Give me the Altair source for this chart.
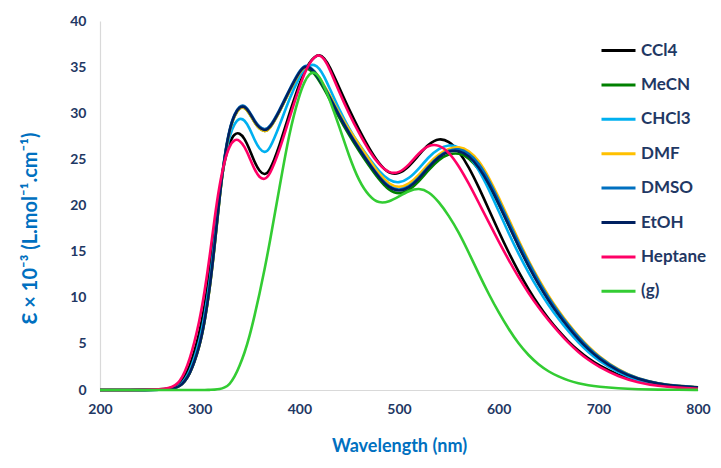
import altair as alt
import pandas as pd

wavelength = [200, 250, 270, 280, 290, 300, 305, 310, 315, 320, 325, 330, 335, 340, 345,
              350, 355, 360, 365, 370, 380, 390, 400, 405, 410, 415, 420, 425, 430, 440,
              450, 460, 470, 480, 490, 500, 510, 520, 530, 540, 550, 560, 570, 580, 590,
              600, 610, 620, 630, 640, 650, 660, 670, 680, 690, 700, 720, 740, 760, 780, 800]

ccl4 = [0, 0, 0.1, 0.5, 2.3, 6.2, 9.1, 12.7, 17.2, 21.6, 24.9, 26.9, 27.8, 27.9, 27.3,
        26.1, 24.7, 23.7, 23.3, 23.6, 26.4, 30.0, 33.2, 34.5, 35.5, 36.1, 36.4, 36.0, 35.2, 32.8,
        30.4, 28.2, 26.2, 24.5, 23.4, 23.4, 24.2, 25.5, 26.7, 27.3, 27.0, 25.9, 24.2, 22.0, 19.6,
        17.2, 14.9, 12.8, 10.9, 9.2, 7.7, 6.4, 5.25, 4.25, 3.4, 2.7, 1.6, 0.9, 0.5, 0.3, 0.18]

mecn = [0, 0, 0.05, 0.3, 1.5, 4.7, 7.4, 10.8, 15.5, 20.9, 25.3, 28.2, 29.8, 30.6, 30.7,
        30.0, 29.0, 28.3, 28.0, 28.2, 30.1, 32.4, 34.3, 34.9, 34.8, 34.3, 33.5, 32.6, 31.6, 29.5,
        27.6, 25.9, 24.3, 22.8, 21.6, 21.2, 21.6, 22.6, 23.9, 25.0, 25.6, 25.7, 25.2, 24.0, 22.3,
        20.2, 17.9, 15.6, 13.45, 11.5, 9.75, 8.2, 6.8, 5.55, 4.45, 3.5, 2.05, 1.15, 0.65, 0.4, 0.28]

chcl3 = [0, 0, 0.05, 0.35, 1.8, 5.3, 8.1, 11.6, 16.2, 21.3, 25.1, 27.6, 28.9, 29.5, 29.3,
         28.4, 27.1, 26.1, 25.7, 26.0, 28.6, 31.6, 33.9, 34.8, 35.2, 35.3, 34.9, 34.0, 32.8, 30.4,
         28.3, 26.6, 25.1, 23.7, 22.7, 22.4, 22.9, 24.0, 25.3, 26.2, 26.6, 26.4, 25.5, 23.9, 21.8,
         19.4, 17.0, 14.75, 12.7, 10.85, 9.2, 7.7, 6.35, 5.15, 4.1, 3.2, 1.85, 1.0, 0.55, 0.32, 0.22]

dmf = [0, 0, 0.05, 0.3, 1.5, 4.7, 7.4, 10.8, 15.5, 20.9, 25.3, 28.2, 29.8, 30.6, 30.7,
       30.0, 29.0, 28.3, 28.0, 28.2, 30.1, 32.4, 34.4, 35.0, 35.0, 34.6, 33.9, 33.0, 32.1, 30.0,
       28.2, 26.6, 25.0, 23.4, 22.3, 21.9, 22.3, 23.3, 24.6, 25.6, 26.2, 26.4, 26.0, 24.9, 23.1,
       20.9, 18.55, 16.2, 14.0, 12.0, 10.2, 8.6, 7.15, 5.85, 4.7, 3.7, 2.15, 1.2, 0.7, 0.42, 0.3]

dmso = [0, 0, 0.05, 0.3, 1.5, 4.8, 7.5, 11.0, 15.7, 21.1, 25.5, 28.4, 30.0, 30.8, 30.9,
        30.2, 29.2, 28.5, 28.2, 28.4, 30.3, 32.6, 34.6, 35.2, 35.1, 34.6, 33.8, 32.9, 31.9, 29.8,
        27.9, 26.2, 24.6, 23.1, 22.0, 21.6, 22.0, 23.0, 24.3, 25.4, 26.0, 26.2, 25.7, 24.6, 22.8,
        20.6, 18.25, 15.95, 13.8, 11.8, 10.0, 8.45, 7.0, 5.75, 4.6, 3.6, 2.1, 1.2, 0.7, 0.42, 0.3]

etoh = [0, 0, 0.05, 0.3, 1.5, 4.7, 7.4, 10.9, 15.6, 21.0, 25.4, 28.3, 29.9, 30.7, 30.8,
        30.1, 29.1, 28.4, 28.1, 28.3, 30.2, 32.5, 34.5, 35.1, 35.0, 34.5, 33.7, 32.8, 31.8, 29.7,
        27.8, 26.1, 24.5, 23.0, 21.9, 21.5, 21.9, 22.9, 24.2, 25.3, 25.9, 26.0, 25.4, 24.2, 22.4,
        20.2, 17.85, 15.55, 13.4, 11.45, 9.7, 8.15, 6.75, 5.5, 4.4, 3.45, 2.0, 1.15, 0.65, 0.4, 0.28]

heptane = [0, 0, 0.15, 0.7, 3.1, 7.5, 10.7, 14.4, 18.7, 22.3, 24.9, 26.5, 27.2, 27.1, 26.4,
           25.2, 23.9, 23.0, 22.8, 23.2, 25.9, 29.5, 32.8, 34.3, 35.4, 36.1, 36.4, 35.9, 34.9, 32.3,
           29.9, 27.8, 25.9, 24.4, 23.5, 23.5, 24.4, 25.7, 26.6, 26.6, 25.8, 24.3, 22.4, 20.3, 18.2,
           16.1, 14.1, 12.2, 10.5, 8.95, 7.55, 6.3, 5.1, 4.1, 3.25, 2.55, 1.45, 0.8, 0.42, 0.24, 0.14]

gas = [0, 0, 0, 0, 0, 0, 0, 0.02, 0.03, 0.08, 0.25, 0.6, 1.4, 2.6, 4.0,
       5.8, 8.0, 10.4, 13.0, 15.8, 21.9, 28.0, 32.0, 33.4, 34.3, 34.5, 34.0, 32.9, 31.6, 28.6,
       25.3, 22.6, 21.0, 20.2, 20.4, 21.0, 21.6, 21.9, 21.5, 20.4, 18.9, 17.1, 14.9, 12.6, 10.4,
       8.4, 6.6, 5.0, 3.75, 2.75, 2.0, 1.45, 1.02, 0.72, 0.5, 0.35, 0.17, 0.08, 0.04, 0.02, 0.01]

names = ["CCl4", "MeCN", "CHCl3", "DMF", "DMSO", "EtOH", "Heptane", "(g)"]
colors = ["#000000", "#008000", "#00B0F0", "#FFC000", "#0070C0", "#002060", "#FF0066", "#33CC33"]
series = [ccl4, mecn, chcl3, dmf, dmso, etoh, heptane, gas]

x_ticks = [200, 300, 400, 500, 600, 700, 800]
y_ticks = [0, 5, 10, 15, 20, 25, 30, 35, 40]

rows = []
for name, vals in zip(names, series, strict=True):
    for w, v in zip(wavelength, vals, strict=True):
        rows.append({"series": name, "wl": w, "eps": v})
df = pd.DataFrame(rows)

navy = "#1F3864"
blue = "#0070C0"
font = "Lato"

chart = alt.Chart(df).mark_line(strokeWidth=2.6, interpolate="basis").encode(
    x=alt.X("wl:Q",
            scale=alt.Scale(domain=[200, 800], nice=False),
            axis=alt.Axis(values=x_ticks, title="Wavelength (nm)", labelPadding=12,
                          labelFlush=False, titlePadding=21, titleFontSize=18)),
    y=alt.Y("eps:Q",
            scale=alt.Scale(domain=[0, 40], nice=False),
            axis=alt.Axis(values=y_ticks, title="Ɛ × 10⁻³ (L.mol⁻¹.cm⁻¹)", labelPadding=14,
                          titleFontSize=20, titleX=-60, titleY=207, titleAngle=270,
                          titleAlign="center", titleBaseline="bottom")),
    color=alt.Color("series:N",
                    scale=alt.Scale(domain=names, range=colors),
                    legend=alt.Legend(title=None, orient="none", legendX=500, legendY=11,
                                      symbolType="stroke", symbolSize=1156,
                                      symbolStrokeWidth=3, labelFont=font,
                                      labelFontWeight="bold", labelFontSize=17,
                                      labelColor=navy, rowPadding=7.4, labelOffset=4,
                                      padding=0)),
).properties(
    width=598, height=369,
    autosize=alt.AutoSizeParams(type="none"),
    padding={"left": 92, "top": 13, "right": 15, "bottom": 70},
).configure_axis(
    grid=False, ticks=False, domainColor="#D9D9D9", domainWidth=1.2,
    labelFont=font, labelFontWeight="bold", labelFontSize=14, labelColor=navy,
    titleFont=font, titleFontWeight="bold", titleColor=blue,
).configure_view(stroke=None)

chart.save("out.html", embed_options={"renderer": "svg", "actions": False})
